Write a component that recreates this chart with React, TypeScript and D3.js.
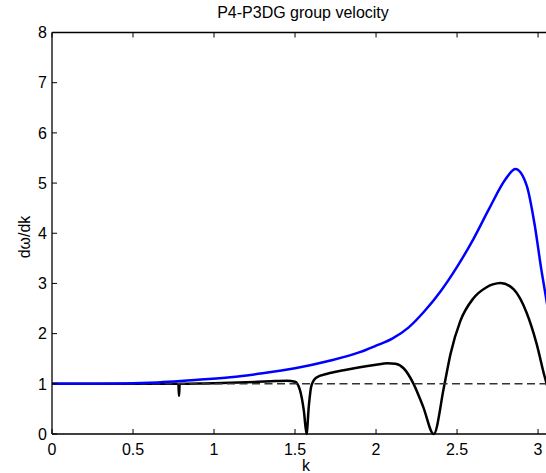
import React from "react";
import * as d3 from "d3";

const W = 546;
const H = 473;

const titleText = "P4-P3DG group velocity";
const xLabel = "k";
const yLabel = "dω/dk";

const xTicks = [0, 0.5, 1, 1.5, 2, 2.5, 3];
const xTickLabels = ["0", "0.5", "1", "1.5", "2", "2.5", "3"];
const yTicks = [0, 1, 2, 3, 4, 5, 6, 7, 8];
const yTickLabels = ["0", "1", "2", "3", "4", "5", "6", "7", "8"];

// blue curve (k, value)
const blueK = [0, 0.3, 0.6, 0.9, 1.1, 1.3, 1.5, 1.7, 1.9, 2.0, 2.1, 2.2, 2.3, 2.4, 2.5, 2.6, 2.7, 2.8, 2.86, 2.93, 2.98, 3.02, 3.05, 3.08];
const blueV = [1.0, 1.0, 1.02, 1.08, 1.13, 1.21, 1.31, 1.45, 1.63, 1.76, 1.9, 2.12, 2.45, 2.85, 3.33, 3.88, 4.5, 5.08, 5.28, 4.95, 4.15, 3.28, 2.7, 2.1];

// black curve (k, value)
const blackK = [0, 0.4, 0.78, 0.784, 0.788, 1.0, 1.2, 1.35, 1.45, 1.5, 1.53, 1.555, 1.571, 1.585, 1.6, 1.63, 1.7, 1.8, 1.9, 2.0, 2.07, 2.12, 2.17, 2.23, 2.29, 2.356, 2.42, 2.46, 2.52, 2.6, 2.68, 2.72, 2.77, 2.85, 2.93, 2.99, 3.04, 3.08];
const blackV = [1.0, 1.0, 1.0, 0.76, 1.0, 1.01, 1.03, 1.05, 1.06, 1.04, 0.88, 0.45, 0.0, 0.55, 0.95, 1.12, 1.2, 1.27, 1.33, 1.38, 1.41, 1.4, 1.31, 1.01, 0.55, 0.0, 0.95, 1.6, 2.25, 2.7, 2.92, 2.98, 3.01, 2.88, 2.41, 1.81, 1.15, 0.7];

// reference dashed line
const refK = [0, Math.PI];
const refV = [1, 1];

export default function App() {
  const x = d3.scaleLinear().domain([0, Math.PI]).range([52, 561]);
  const y = d3.scaleLinear().domain([0, 8]).range([434, 32.5]);

  const lineMono = d3
    .line<[number, number]>()
    .x((d) => x(d[0]))
    .y((d) => y(d[1]))
    .curve(d3.curveMonotoneX);
  const lineLin = d3
    .line<[number, number]>()
    .x((d) => x(d[0]))
    .y((d) => y(d[1]));

  const blue = blueK.map((k, i) => [k, blueV[i]] as [number, number]);
  const black = blackK.map((k, i) => [k, blackV[i]] as [number, number]);
  const ref = refK.map((k, i) => [k, refV[i]] as [number, number]);

  const x0 = x(0);
  const x1 = x(Math.PI);
  const yb = y(0);
  const yt = y(8);
  const font = "'Liberation Sans', Arial, Helvetica, sans-serif";
  const tickLen = 5;

  return (
    <svg
      width={W}
      height={H}
      style={{ position: "absolute", left: 0, top: 0, background: "#fff" }}
      fontFamily={font}
    >
      <rect x={0} y={0} width={W} height={H} fill="#fff" />
      <defs>
        <clipPath id="plotClip">
          <rect x={x0} y={yt - 2} width={x1 - x0} height={yb - yt + 4} />
        </clipPath>
      </defs>
      <g clipPath="url(#plotClip)">
        <path d={lineMono(black) || ""} fill="none" stroke="#000" strokeWidth={2.5} strokeLinejoin="round" />
        <path d={lineLin(ref) || ""} fill="none" stroke="#333" strokeWidth={1.5} strokeDasharray="8,4.5" />
        <path d={lineMono(blue) || ""} fill="none" stroke="#0000ff" strokeWidth={2.5} strokeLinejoin="round" />
      </g>
      {/* axes box */}
      <line x1={x0} x2={x1} y1={yb} y2={yb} stroke="#000" strokeWidth={1.3} />
      <line x1={x0} x2={x1} y1={yt} y2={yt} stroke="#000" strokeWidth={1.3} />
      <line x1={x0} x2={x0} y1={yt} y2={yb} stroke="#000" strokeWidth={1.3} />
      <line x1={x1} x2={x1} y1={yt} y2={yb} stroke="#000" strokeWidth={1.3} />
      {xTicks.map((t, i) => (
        <g key={"xt" + i}>
          <line x1={x(t)} x2={x(t)} y1={yb} y2={yb - tickLen} stroke="#000" strokeWidth={1} />
          <line x1={x(t)} x2={x(t)} y1={yt} y2={yt + tickLen} stroke="#000" strokeWidth={1} />
          <text x={x(t)} y={454.5} fontSize={16} textAnchor="middle" fill="#000">
            {xTickLabels[i]}
          </text>
        </g>
      ))}
      {yTicks.map((t, i) => (
        <g key={"yt" + i}>
          <line x1={x0} x2={x0 + tickLen} y1={y(t)} y2={y(t)} stroke="#000" strokeWidth={1} />
          <line x1={x1} x2={x1 - tickLen} y1={y(t)} y2={y(t)} stroke="#000" strokeWidth={1} />
          <text x={47} y={y(t) + 5.8} fontSize={16} textAnchor="end" fill="#000">
            {yTickLabels[i]}
          </text>
        </g>
      ))}
      <text x={303} y={17.5} fontSize={16} textAnchor="middle" fill="#000">
        {titleText}
      </text>
      <text x={306} y={471} fontSize={16} textAnchor="middle" fill="#000">
        {xLabel}
      </text>
      <text
        x={0}
        y={0}
        fontSize={16}
        textAnchor="middle"
        fill="#000"
        transform={`translate(30, 237) rotate(-90)`}
      >
        {yLabel}
      </text>
    </svg>
  );
}
